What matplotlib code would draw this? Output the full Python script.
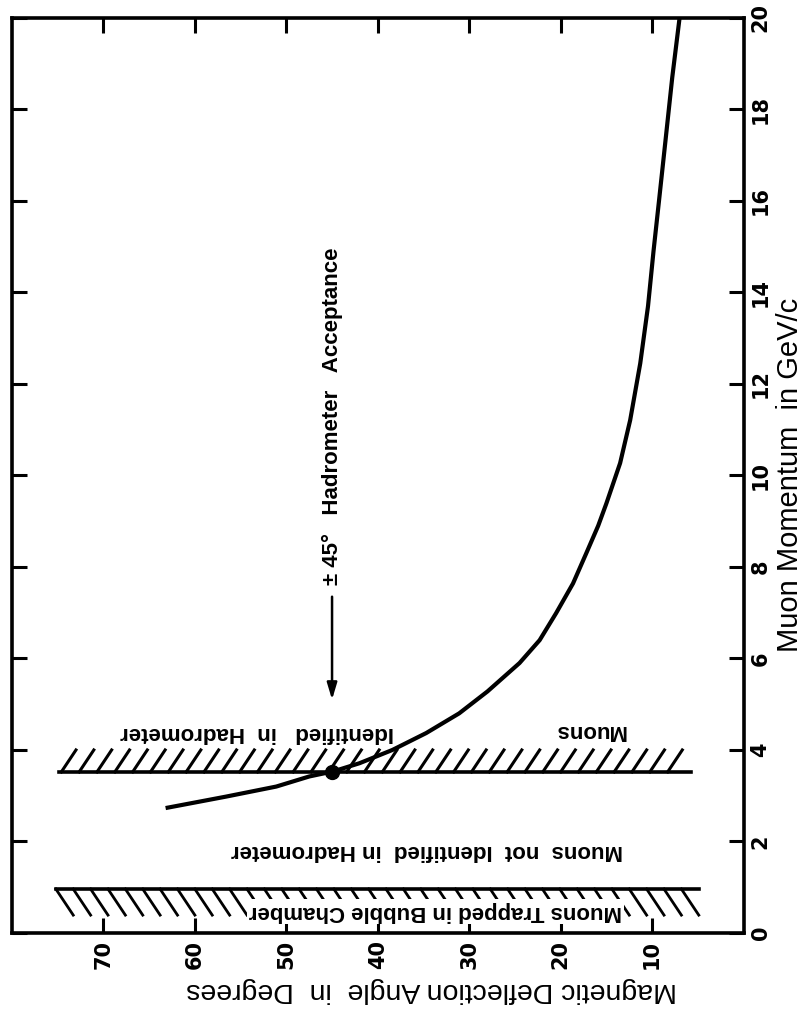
#!/usr/bin/env python
import matplotlib

matplotlib.use("Agg")
import matplotlib.pyplot as plt
import numpy as np

# deflection curve: (angle in degrees, momentum in GeV/c)
angle = [63.2, 56.6, 51.1, 47.5, 44.9, 42.0, 38.4, 34.7, 31.1, 28.0, 24.5,
         22.3, 20.5, 18.65, 17.2, 15.9, 15.0, 13.5, 12.4, 11.3, 10.45, 9.85,
         9.25, 8.55, 7.8, 7.0]
momentum = [2.73, 2.98, 3.20, 3.42, 3.53, 3.71, 4.00, 4.37, 4.80, 5.28, 5.90,
            6.40, 6.99, 7.64, 8.30, 8.90, 9.39, 10.27, 11.21, 12.45, 13.7,
            14.9, 16.0, 17.3, 18.7, 20.0]

# acceptance point and arrow
acc_angle = 45.0
acc_momentum = 3.52
arrow_from = 7.35
arrow_to = 5.1

# hatched boundaries: momentum of line, angle span, hatch depth
upper_p, upper_span, upper_depth = 3.52, (74.9, 5.8), 0.48
lower_p, lower_span, lower_depth = 0.96, (75.2, 4.9), 0.57

angle_ticks = [10, 20, 30, 40, 50, 60, 70]
mom_ticks = list(range(0, 21, 2))

plt.rcParams["font.family"] = ["Liberation Sans", "DejaVu Sans"]

fig = plt.figure(figsize=(8.03, 10.11), dpi=100)
ax = fig.add_axes([0.0149, 0.0772, 0.9111, 0.9050])
ax.set_xlim(80, 0)
ax.set_ylim(0, 20)

for s in ax.spines.values():
    s.set_linewidth(2.6)

ax.set_xticks(angle_ticks)
ax.set_yticks(mom_ticks)
ax.tick_params(direction="in", length=11, width=2.2, top=True, right=True,
               labelleft=False, labelright=True, labelsize=15, pad=5)
ax.tick_params(axis="both", labelrotation=90)
for t in ax.get_xticklabels():
    t.set_fontweight("bold")
    t.set_family("DejaVu Sans")
for tick in ax.yaxis.get_major_ticks():
    tick.label2.set_fontweight("bold")
    tick.label2.set_family("DejaVu Sans")
    tick.label2.set_va("center")

fig.text(790 / 803, 1 - 475 / 1011, "Muon Momentum  in GeV/c", fontsize=21,
         rotation=90, ha="center", va="center")
fig.text(432 / 803, 1 - 990 / 1011, "Magnetic Deflection Angle  in  Degrees",
         fontsize=20.5, rotation=180, ha="center", va="center")

# curve
ax.plot(angle, momentum, color="black", lw=3.0, solid_capstyle="butt",
        solid_joinstyle="round")
ax.plot([acc_angle], [acc_momentum], "o", color="black", ms=10)

# hatched boundaries
ax.plot(upper_span, [upper_p, upper_p], color="black", lw=2.6)
for a in np.arange(upper_span[0] - 0.3, upper_span[1] + 1.5, -1.95):
    ax.plot([a, a - 1.6], [upper_p, upper_p + upper_depth], color="black", lw=2.2)
ax.plot(lower_span, [lower_p, lower_p], color="black", lw=2.6)
for a in np.arange(lower_span[0], lower_span[1] + 1.5, -1.9):
    ax.plot([a, a - 1.9], [lower_p, lower_p - lower_depth], color="black", lw=2.0)

# arrow and acceptance label
ax.annotate("", xy=(acc_angle, arrow_to), xytext=(acc_angle, arrow_from),
            arrowprops=dict(arrowstyle="-|>,head_length=1.0,head_width=0.3",
                            color="black", lw=1.8, shrinkA=0, shrinkB=0))
ax.text(acc_angle, arrow_from + 0.25, "± 45°   Hadrometer   Acceptance",
        rotation=90, rotation_mode="anchor", ha="left", va="center",
        fontsize=16, fontweight="bold")

# region labels
lab = dict(rotation=180, ha="center", va="center", fontsize=16, fontweight="bold")
ax.text(53.2, 4.39, "Identified   in  Hadrometer", **lab)
ax.text(16.8, 4.43, "Muons", **lab)
ax.text(34.6, 1.81, "Muons  not  Identified  in Hadrometer", **lab)
ax.text(33.7, 0.46, "Muons Trapped in Bubble Chamber",
        bbox=dict(facecolor="white", edgecolor="none", pad=1.5), **lab)

fig.savefig("out.png", dpi=100)
